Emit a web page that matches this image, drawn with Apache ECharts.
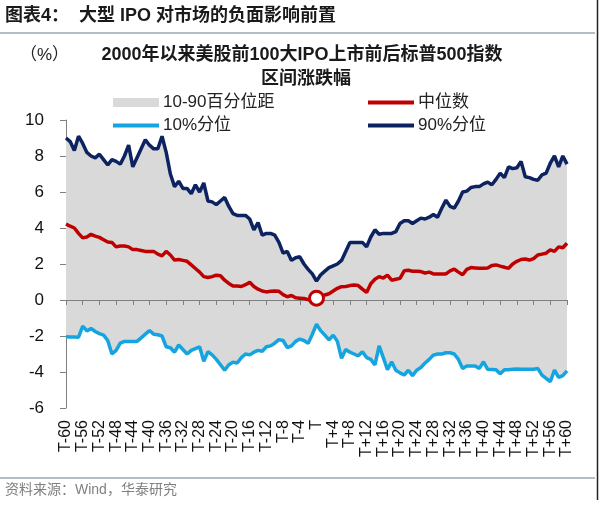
<!DOCTYPE html>
<html>
<head>
<meta charset="utf-8">
<script src="https://cdn.jsdelivr.net/npm/echarts@6/dist/echarts.min.js"></script>
<style>
html, body { margin: 0; padding: 0; background: #fff; }
#e_chart_1 { width: 600px; height: 506px; }
</style>
</head>
<body>
<div id="e_chart_1"></div>
<script>
// T-60 ... T ... T+60
var categories = [];
for (var d = -60; d <= 60; d++) {
	categories.push(d == 0 ? 'T' : (d < 0 ? 'T' + d : 'T+' + d));
}

var p90 = [9.0, 8.8, 8.3, 9.1, 8.7, 8.2, 8.0, 7.9, 8.1, 7.8,
	7.5, 7.8, 7.7, 7.55, 8.0, 8.6, 7.4, 7.9, 8.4, 8.9,
	8.6, 8.4, 8.4, 9.1, 8.2, 7.0, 6.3, 6.6, 6.2, 6.2,
	5.9, 6.4, 6.0, 6.5, 5.5, 5.45, 5.3, 5.5, 5.7, 5.2,
	4.8, 4.7, 4.7, 4.7, 4.5, 3.9, 4.3, 3.6, 3.7, 3.7,
	3.6, 3.2, 2.6, 2.7, 2.2, 2.35, 2.4, 2.0, 1.7, 1.45,
	1.05, 1.4, 1.6, 1.8, 1.9, 2.0, 2.2, 2.7, 3.2, 3.2,
	3.2, 3.2, 2.95, 3.5, 3.9, 3.65, 3.7, 3.7, 3.7, 3.8,
	4.25, 4.4, 4.4, 4.25, 4.4, 4.55, 4.5, 4.6, 4.75, 4.6,
	5.1, 5.55, 5.2, 5.1, 5.5, 6.0, 6.05, 6.25, 6.3, 6.3,
	6.45, 6.55, 6.4, 6.7, 7.05, 6.8, 7.4, 7.3, 7.35, 7.7,
	6.85, 6.8, 6.7, 6.65, 6.95, 7.05, 7.6, 8.0, 7.4, 8.0,
	7.55];

var median = [4.22, 4.1, 4.0, 3.7, 3.45, 3.5, 3.65, 3.55, 3.48, 3.35,
	3.22, 3.2, 2.95, 3.0, 3.0, 2.95, 2.8, 2.8, 2.75, 2.7,
	2.7, 2.7, 2.55, 2.45, 2.7, 2.5, 2.22, 2.25, 2.2, 2.15,
	1.95, 1.75, 1.55, 1.3, 1.25, 1.3, 1.38, 1.35, 1.1, 0.92,
	0.78, 0.78, 0.75, 0.85, 0.98, 0.75, 0.6, 0.5, 0.45, 0.48,
	0.5, 0.48, 0.3, 0.18, 0.25, 0.12, 0.1, 0.08, 0.02, 0.05,
	0.1, 0.2, 0.28, 0.35, 0.5, 0.65, 0.74, 0.75, 0.8, 0.83,
	0.8, 0.6, 0.42, 0.9, 1.15, 1.3, 1.22, 1.38, 1.1, 1.15,
	1.2, 1.62, 1.65, 1.6, 1.6, 1.58, 1.5, 1.55, 1.45, 1.45,
	1.45, 1.45, 1.62, 1.72, 1.55, 1.4, 1.7, 1.8, 1.78, 1.76,
	1.76, 1.78, 1.92, 1.95, 1.88, 1.82, 1.76, 2.0, 2.15, 2.25,
	2.28, 2.22, 2.3, 2.5, 2.55, 2.6, 2.78, 2.7, 2.95, 2.9,
	3.15];

var p10 = [-2.04, -2.05, -2.06, -2.07, -1.45, -1.72, -1.58, -1.75, -1.87, -1.95,
	-2.25, -3.0, -2.8, -2.4, -2.3, -2.3, -2.3, -2.3, -2.1, -1.9,
	-1.7, -1.9, -1.93, -2.0, -2.6, -2.65, -2.9, -2.5, -2.75, -3.0,
	-2.8, -2.7, -2.6, -3.4, -2.87, -3.05, -3.3, -3.6, -3.9, -3.6,
	-3.45, -3.5, -3.2, -3.0, -3.05, -2.9, -2.8, -2.85, -2.6, -2.55,
	-2.4, -2.2, -2.25, -2.65, -2.55, -2.3, -2.17, -2.25, -2.41, -1.9,
	-1.35, -1.7, -1.95, -2.22, -1.95, -2.3, -3.24, -2.75, -2.9, -3.0,
	-3.1, -2.87, -3.2, -3.3, -3.61, -2.55, -3.2, -3.87, -3.43, -3.9,
	-4.05, -4.17, -3.9, -4.2, -3.9, -3.75, -3.5, -3.3, -3.06, -3.0,
	-3.0, -2.93, -2.93, -3.0, -3.3, -3.8, -3.67, -3.67, -3.67, -3.8,
	-3.43, -3.85, -3.86, -3.87, -4.1, -3.87, -3.87, -3.85, -3.83, -3.85,
	-3.85, -3.85, -3.85, -3.8, -4.17, -4.35, -4.54, -3.89, -4.3, -4.2,
	-3.94];

var yMin = -6, yMax = 10, yStep = 2;
var markIndex = 60; // T day

var FONT = "'Liberation Sans', 'Noto Sans CJK SC', sans-serif";
var C_BAND = '#d9d9d9', C_MED = '#c00000', C_P10 = '#14a5e0', C_P90 = '#0d2260';

var medianData = median.map(function (v, i) {
	if (i != markIndex) return v;
	return {
		value: v,
		symbol: 'circle',
		symbolSize: 14,
		itemStyle: { color: '#fff', borderColor: C_MED, borderWidth: 3 }
	};
});

function legendItem(name, left, top, h) {
	return {
		left: left,
		top: top,
		itemWidth: 46,
		itemHeight: h,
		itemGap: 0,
		selectedMode: false,
		textStyle: { fontSize: 17, color: '#222', fontFamily: FONT, padding: [0, 0, 0, -1] },
		data: [{ name: name, icon: 'rect' }]
	};
}

var dom = document.getElementById('e_chart_1');
var myChart = echarts.init(dom);

var option = {
	animation: false,
	backgroundColor: '#fff',
	legend: [
		legendItem('10-90百分位距', 108, 89, 9),
		legendItem('中位数', 363, 89, 4),
		legendItem('10%分位', 108, 112, 4),
		legendItem('90%分位', 363, 112, 4)
	],
	grid: { left: 66, right: 33, top: 120, bottom: 98, containLabel: false, outerBoundsMode: 'none' },
	xAxis: {
		type: 'category',
		data: categories,
		boundaryGap: false,
		z: 5,
		axisLine: { onZero: true, lineStyle: { color: '#808080', width: 1 } },
		axisTick: { show: true, interval: 3, length: 5, lineStyle: { color: '#808080' } },
		axisLabel: {
			interval: 3,
			rotate: 90,
			margin: 12,
			fontSize: 16,
			showMinLabel: true,
			showMaxLabel: true,
			color: '#111',
			fontFamily: FONT
		},
		splitLine: { show: false }
	},
	yAxis: {
		type: 'value',
		min: yMin,
		max: yMax,
		interval: yStep,
		axisLine: { show: true, lineStyle: { color: '#808080', width: 1 } },
		axisTick: { show: true, length: 6, lineStyle: { color: '#808080' } },
		axisLabel: { fontSize: 17, color: '#111', margin: 22, fontFamily: FONT },
		splitLine: { show: false }
	},
	series: [{
		name: '10-90百分位距',
		type: 'line',
		color: C_BAND,
		data: [],
		symbol: 'none',
		areaStyle: { color: C_BAND }
	}, {
		name: '90%分位',
		type: 'line',
		color: C_P90,
		data: p90,
		symbol: 'none',
		lineStyle: { width: 3.5, color: C_P90 },
		areaStyle: { color: C_BAND, opacity: 1 },
		z: 2
	}, {
		name: '10%分位',
		type: 'line',
		color: C_P10,
		data: p10,
		symbol: 'none',
		lineStyle: { width: 3.5, color: C_P10 },
		areaStyle: { color: C_BAND, opacity: 1 },
		z: 2
	}, {
		name: '中位数',
		type: 'line',
		color: C_MED,
		data: medianData,
		symbol: 'none',
		showSymbol: true,
		showAllSymbol: true,
		lineStyle: { width: 3.5, color: C_MED },
		z: 6
	}],
	graphic: [{
		type: 'text',
		left: 5,
		top: 7,
		style: { text: '图表4：  大型 IPO 对市场的负面影响前置', font: 'bold 18px ' + FONT, fill: '#1a1a1a' }
	}, {
		type: 'line',
		shape: { x1: 0, y1: 33, x2: 595, y2: 33 },
		style: { stroke: '#9aa9b8', lineWidth: 1.5 }
	}, {
		type: 'text',
		left: 20,
		top: 47,
		style: { text: '（%）', font: '17px ' + FONT, fill: '#222' }
	}, {
		type: 'text',
		style: {
			text: '2000年以来美股前100大IPO上市前后标普500指数',
			x: 302, y: 55, align: 'center', verticalAlign: 'middle',
			font: 'bold 18px ' + FONT, fill: '#1a1a1a'
		}
	}, {
		type: 'text',
		style: {
			text: '区间涨跌幅',
			x: 306, y: 79, align: 'center', verticalAlign: 'middle',
			font: 'bold 18px ' + FONT, fill: '#1a1a1a'
		}
	}, {
		type: 'line',
		shape: { x1: 0, y1: 478, x2: 595, y2: 478 },
		style: { stroke: '#9aa9b8', lineWidth: 1.5 }
	}, {
		type: 'text',
		left: 5,
		top: 483,
		style: { text: '资料来源：Wind，华泰研究', font: '14px ' + FONT, fill: '#808080' }
	}, {
		type: 'line',
		shape: { x1: 597.5, y1: 0, x2: 597.5, y2: 500 },
		style: { stroke: '#222', lineWidth: 1.5 }
	}]
};

if (option && typeof option === 'object') {
	myChart.setOption(option, true);
}
</script>
</body>
</html>
